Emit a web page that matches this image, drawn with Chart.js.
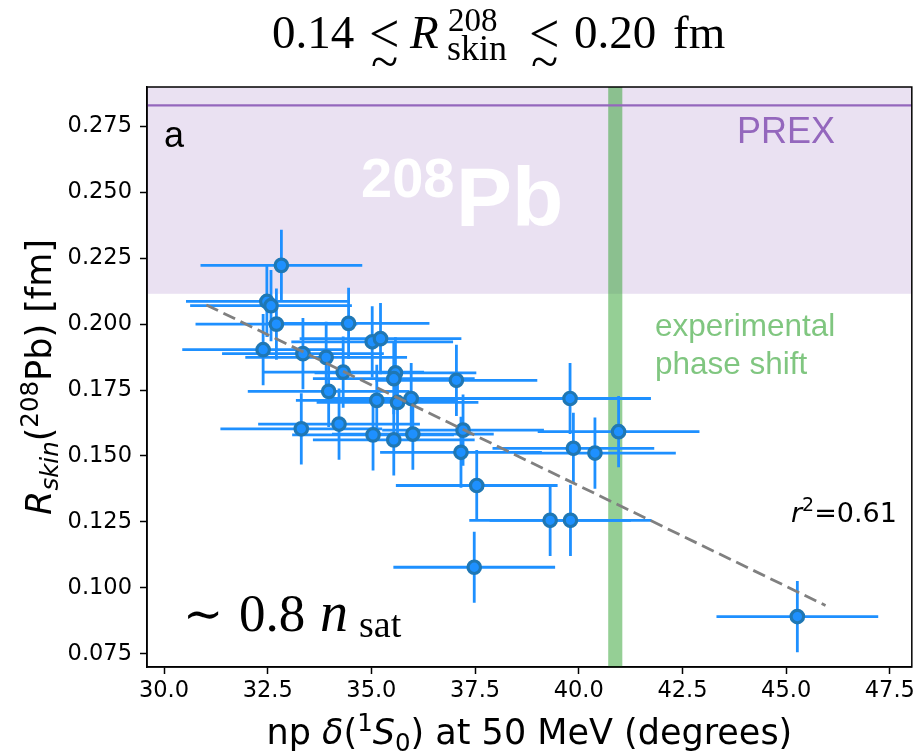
<!DOCTYPE html>
<html>
<head>
<meta charset="utf-8">
<script src="https://cdn.jsdelivr.net/npm/chart.js@4"></script>
<style>
  body { margin: 0; background: #fff; }
  #wrap { width: 919px; height: 754px; }
</style>
</head>
<body>
<div id="wrap"><canvas id="myChart"></canvas></div>
<script>
// np phase shift (degrees) and Rskin(208Pb) (fm) for each interaction
const xVals = [32.83, 32.48, 32.58, 32.71, 34.45, 32.39, 33.35, 33.91, 35.02, 35.22, 34.32, 35.58,
  35.54, 37.05, 33.97, 35.13, 35.63, 35.96, 33.31, 34.22, 35.04, 35.54, 36.00, 37.21, 37.16, 37.54,
  39.79, 40.96, 39.87, 40.39, 39.31, 39.80, 37.48, 45.27]
const yVals = [0.2223, 0.2086, 0.2070, 0.2000, 0.2003, 0.1903, 0.1888, 0.1874, 0.1933, 0.1945, 0.1818, 0.1815,
  0.1793, 0.1787, 0.1745, 0.1711, 0.1703, 0.1718, 0.1603, 0.1621, 0.1580, 0.1561, 0.1583, 0.1598, 0.1514, 0.1388,
  0.1718, 0.1592, 0.1529, 0.1511, 0.1256, 0.1256, 0.1078, 0.0891]
const xErr = 1.95
const yErr = 0.0135

// linear fit (dashed)
const fitX = [31.02, 45.95]
const fitY = [0.2073, 0.0933]

// PREX band and experimental phase shift band
const prexCenter = 0.283
const prexLow = 0.2115
const prexHigh = 0.354
const expLow = 40.71
const expHigh = 41.05

const xTicks = [30.0, 32.5, 35.0, 37.5, 40.0, 42.5, 45.0, 47.5]
const yTicks = [0.075, 0.100, 0.125, 0.150, 0.175, 0.200, 0.225, 0.250, 0.275]

const SANS = 'DejaVu Sans'
const ARIAL = 'Liberation Sans'
const SERIF = 'Liberation Serif'

// draw text made of pieces: [text, font, dy]
const drawRich = (ctx, parts, x, y, align) => {
  const widths = parts.map(p => { ctx.font = p[1]; return ctx.measureText(p[0]).width })
  const total = widths.reduce((s, w) => s + w, 0)
  let cx = align === 'center' ? x - total / 2 : x
  parts.forEach((p, i) => {
    ctx.font = p[1]
    ctx.fillText(p[0], cx, y + (p[2] || 0))
    cx += widths[i]
  })
}

// pieces placed at their own spots: [text, font, x, y]
const drawPieces = (ctx, parts) => {
  parts.forEach(p => {
    ctx.font = p[1]
    ctx.fillText(p[0], p[2], p[3])
  })
}

const bandsPlugin = {
  id: 'bands',
  beforeDatasetsDraw(chart) {
    const { ctx, chartArea: a, scales: { x, y } } = chart
    ctx.save()
    ctx.beginPath()
    ctx.rect(a.left, a.top, a.right - a.left, a.bottom - a.top)
    ctx.clip()
    // PREX band
    ctx.fillStyle = 'rgba(148,103,189,0.2)'
    const yb = y.getPixelForValue(prexLow)
    const yt = y.getPixelForValue(prexHigh)
    ctx.fillRect(a.left, yt, a.right - a.left, yb - yt)
    // experimental band
    ctx.fillStyle = 'rgba(44,160,44,0.5)'
    const xl = x.getPixelForValue(expLow)
    const xr = x.getPixelForValue(expHigh)
    ctx.fillRect(xl, a.top, xr - xl, a.bottom - a.top)
    // PREX central line
    ctx.strokeStyle = '#9467bd'
    ctx.lineWidth = 2.2
    ctx.beginPath()
    const yc = y.getPixelForValue(prexCenter)
    ctx.moveTo(a.left, yc)
    ctx.lineTo(a.right, yc)
    ctx.stroke()
    // 208Pb label
    ctx.fillStyle = '#ffffff'
    ctx.textBaseline = 'alphabetic'
    ctx.font = 'bold 56px ' + ARIAL
    ctx.fillText('208', 361, 197)
    ctx.font = 'bold 84px ' + ARIAL
    ctx.fillText('Pb', 456, 226)
    // error bars
    ctx.strokeStyle = '#1e90ff'
    ctx.lineWidth = 2.8
    for (let i = 0; i < xVals.length; i++) {
      const px = x.getPixelForValue(xVals[i])
      const py = y.getPixelForValue(yVals[i])
      ctx.beginPath()
      ctx.moveTo(x.getPixelForValue(xVals[i] - xErr), py)
      ctx.lineTo(x.getPixelForValue(xVals[i] + xErr), py)
      ctx.moveTo(px, y.getPixelForValue(yVals[i] - yErr))
      ctx.lineTo(px, y.getPixelForValue(yVals[i] + yErr))
      ctx.stroke()
    }
    ctx.restore()
  }
}

const textPlugin = {
  id: 'texts',
  afterDraw(chart) {
    const { ctx, chartArea: a } = chart
    ctx.save()
    // top and right spines
    ctx.strokeStyle = '#000'
    ctx.lineWidth = 1.5
    ctx.strokeRect(a.left, a.top, a.right - a.left, a.bottom - a.top)
    ctx.textBaseline = 'alphabetic'
    ctx.textAlign = 'left'

    ctx.fillStyle = '#000'
    ctx.font = '36px ' + ARIAL
    ctx.fillText('a', 164, 147)

    ctx.fillStyle = '#9467bd'
    ctx.font = '36px ' + ARIAL
    ctx.fillText('PREX', 737, 143)

    ctx.fillStyle = 'rgba(44,160,44,0.6)'
    ctx.font = '31.5px ' + ARIAL
    ctx.fillText('experimental', 655, 336)
    ctx.fillText('phase shift', 655, 374)

    ctx.fillStyle = '#000'
    drawRich(ctx, [
      ['r', 'italic 27px ' + SANS],
      ['2', '19px ' + SANS, -11],
      ['=0.61', '27px ' + SANS]
    ], 791, 522, 'left')

    drawPieces(ctx, [
      ['\u223C', '48px DejaVu Serif', 183, 630],
      ['0.8', '53px ' + SERIF, 239, 631],
      ['n', 'italic 56px ' + SERIF, 320, 631],
      ['sat', '38px ' + SERIF, 359, 637]
    ])

    // title (the "less than or about" signs built as < over ~)
    drawPieces(ctx, [
      ['0.14', '47px ' + SERIF, 272, 48],
      ['<', '54px ' + SERIF, 369, 52],
      ['~', '50px ' + SERIF, 371, 78],
      ['R', 'italic 47px ' + SERIF, 410, 48],
      ['208', '33px ' + SERIF, 448, 31],
      ['skin', '36px ' + SERIF, 447, 60],
      ['<', '54px ' + SERIF, 529, 52],
      ['~', '50px ' + SERIF, 531, 78],
      ['0.20', '47px ' + SERIF, 574, 48],
      ['fm', '47px ' + SERIF, 673, 48]
    ])

    // axis titles
    drawRich(ctx, [
      ['np ', '35px ' + SANS],
      ['\u03B4', 'italic 35px ' + SANS],
      ['(', '35px ' + SANS],
      ['1', '24.5px ' + SANS, -13],
      ['S', 'italic 35px ' + SANS],
      ['0', '24.5px ' + SANS, 7],
      [') at 50 MeV (degrees)', '35px ' + SANS]
    ], (a.left + a.right) / 2, 744, 'center')

    ctx.translate(51, (a.top + a.bottom) / 2)
    ctx.rotate(-Math.PI / 2)
    drawRich(ctx, [
      ['R', 'italic 35px ' + SANS],
      ['skin', 'italic 24.5px ' + SANS, 7],
      ['(', '35px ' + SANS],
      ['208', '24.5px ' + SANS, -13],
      ['Pb) [fm]', '35px ' + SANS]
    ], 0, 0, 'center')
    ctx.restore()
  }
}

const points = xVals.map((v, i) => ({ x: v, y: yVals[i] }))
const fitLine = fitX.map((v, i) => ({ x: v, y: fitY[i] }))

const axisStyle = {
  grid: { drawOnChartArea: false, drawTicks: true, tickLength: 7, tickWidth: 1.5, tickColor: '#000' },
  border: { display: true, color: '#000', width: 1.5 }
}

new Chart(document.getElementById('myChart'), {
  type: 'scatter',
  data: {
    datasets: [
      {
        type: 'line',
        data: fitLine,
        borderColor: '#808080',
        borderWidth: 2.8,
        borderDash: [13, 6],
        pointRadius: 0,
        fill: false,
        order: 0
      },
      {
        data: points,
        pointRadius: 6.25,
        pointBackgroundColor: '#1e90ff',
        pointBorderColor: '#1f77b4',
        pointBorderWidth: 3.2,
        order: 1
      }
    ]
  },
  options: {
    responsive: true,
    maintainAspectRatio: false,
    animation: false,
    layout: { autoPadding: false, padding: { top: 87, right: 4, left: 0, bottom: 0 } },
    plugins: { legend: { display: false }, tooltip: { enabled: false } },
    scales: {
      x: {
        type: 'linear',
        min: 29.59,
        max: 48.03,
        afterFit: (s) => { s.height = 87 },
        afterBuildTicks: (s) => { s.ticks = xTicks.map(v => ({ value: v })) },
        ticks: { color: '#000', font: { family: SANS, size: 22.5 }, padding: 4, maxRotation: 0,
          callback: (v) => v.toFixed(1) },
        ...axisStyle
      },
      y: {
        type: 'linear',
        min: 0.06996,
        max: 0.28994,
        afterFit: (s) => { s.width = 147 },
        afterBuildTicks: (s) => { s.ticks = yTicks.map(v => ({ value: v })) },
        ticks: { color: '#000', font: { family: SANS, size: 22.5 }, padding: 8,
          callback: (v) => v.toFixed(3) },
        ...axisStyle
      }
    }
  },
  plugins: [bandsPlugin, textPlugin]
})
</script>
</body>
</html>
